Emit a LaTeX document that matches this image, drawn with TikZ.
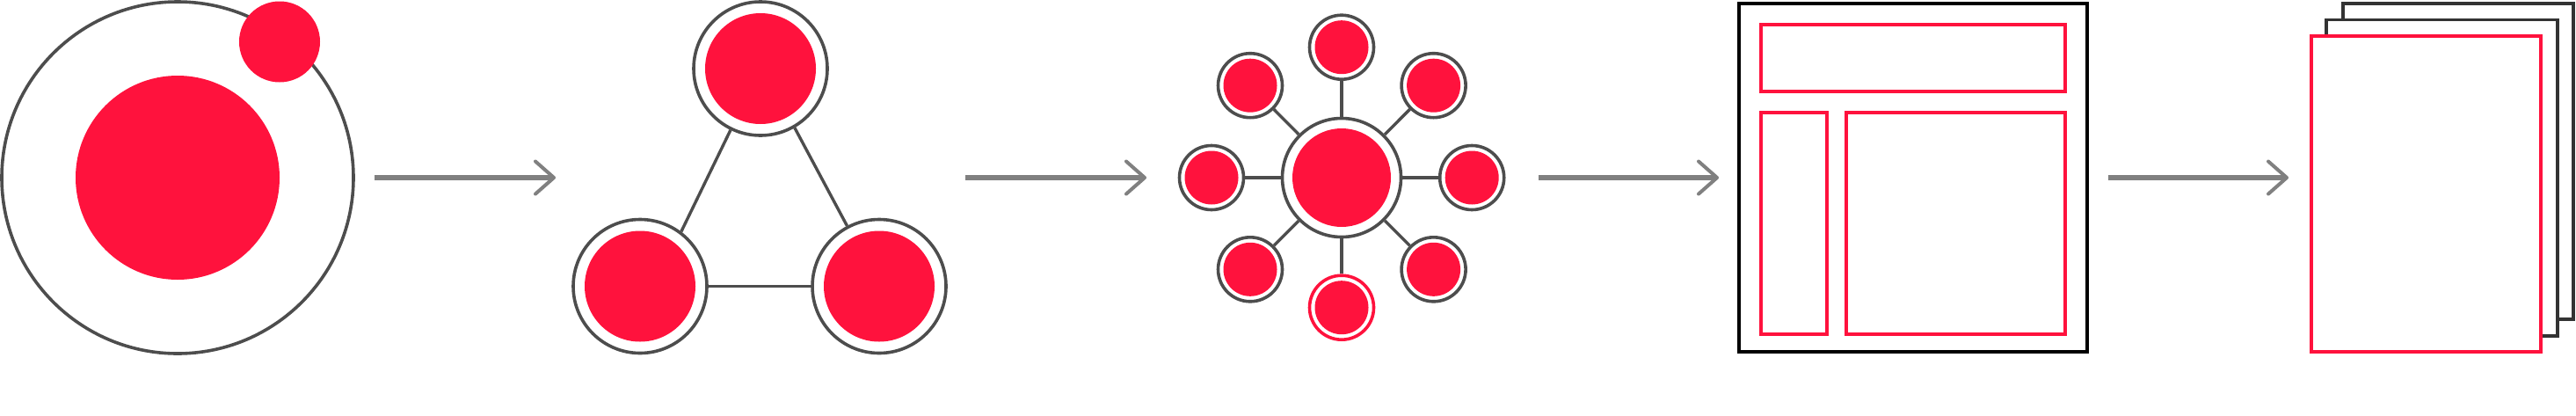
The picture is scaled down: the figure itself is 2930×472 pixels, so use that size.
\documentclass[tikz,border=0pt]{standalone}
\usetikzlibrary{arrows.meta}
\definecolor{hotred}{HTML}{FF123D}
\definecolor{ringgrey}{HTML}{4D4D4D}
\definecolor{arrowgrey}{HTML}{808080}
\definecolor{stackgrey}{HTML}{333333}
\tikzset{
  x=1pt,y=-1pt,
  ring/.style={circle,draw=ringgrey,line width=3.6pt,fill=white,inner sep=0pt,minimum size=#1},
  core/.style={circle,fill=hotred,inner sep=0pt,minimum size=#1},
  edge/.style={draw=ringgrey,line width=3.4pt},
  flow/.style={draw=arrowgrey,line width=5.5pt,-{Straight Barb[length=21pt,width=37pt,line width=4pt,round]}},
  blackbox/.style={draw=black,line width=4pt,fill=white},
  redbox/.style={draw=hotred,line width=4pt,fill=white},
  sheet/.style={draw=stackgrey,line width=3.6pt,fill=white}
}
\begin{document}
\begin{tikzpicture}
\useasboundingbox[fill=white] (0,0) rectangle (2930,472);

% stage 1
\node[ring=400pt] (big) at (202,202) {};
\node[core=232pt] (bigcore) at (202,202) {};
\node[core=92pt] (moon) at (318,47.5) {};
\coordinate (a1s) at (426,202);
\coordinate (a1e) at (632,202);
\draw[flow] (a1s) -- (a1e);

% stage 2
\node[ring=152pt] (t) at (865,78) {};
\node[ring=152pt] (l) at (728,325.5) {};
\node[ring=152pt] (r) at (1000,325.5) {};
\node[core=126pt] (tc) at (865,78) {};
\node[core=126pt] (lc) at (728,325.5) {};
\node[core=126pt] (rc) at (1000,325.5) {};
\draw[edge] (t.244.8) -- (l.53.6);
\draw[edge] (t.-60.3) -- (r.118.4);
\draw[edge] (l.east) -- (r.west);
\coordinate (a2s) at (1098,202);
\coordinate (a2e) at (1304,202);
\draw[flow] (a2s) -- (a2e);

% stage 3
\node[ring=135pt] (hub) at (1526,202) {};
\node[core=112pt] (hubc) at (1526,202) {};
\node[ring=73pt] (sn) at (1526,53.7) {};
\node[ring=73pt] (snw) at (1422,97.2) {};
\node[ring=73pt] (sw) at (1378,202) {};
\node[ring=73pt] (ssw) at (1422,306.3) {};
\node[ring=73pt,draw=hotred] (ss) at (1526,349.7) {};
\node[ring=73pt] (sse) at (1630.6,306.3) {};
\node[ring=73pt] (se) at (1674.2,202) {};
\node[ring=73pt] (sne) at (1630.6,97.2) {};
\node[core=61pt] (snc) at (1526,53.7) {};
\node[core=61pt] (snwc) at (1422,97.2) {};
\node[core=61pt] (swc) at (1378,202) {};
\node[core=61pt] (sswc) at (1422,306.3) {};
\node[core=61pt] (ssc) at (1526,349.7) {};
\node[core=61pt] (ssec) at (1630.6,306.3) {};
\node[core=61pt] (sec) at (1674.2,202) {};
\node[core=61pt] (snec) at (1630.6,97.2) {};
\draw[edge] (hub) -- (sn);
\draw[edge] (hub) -- (snw);
\draw[edge] (hub) -- (sw);
\draw[edge] (hub) -- (ssw);
\draw[edge] (hub) -- (ss);
\draw[edge] (hub) -- (sse);
\draw[edge] (hub) -- (se);
\draw[edge] (hub) -- (sne);
\coordinate (a3s) at (1750,202);
\coordinate (a3e) at (1955,202);
\draw[flow] (a3s) -- (a3e);

% stage 4
\draw[blackbox] (1978,4) rectangle (2373.6,400);
\draw[redbox] (2002.5,28) rectangle (2349.4,103.7);
\draw[redbox] (2002.5,128) rectangle (2077.5,379.7);
\draw[redbox] (2100,128) rectangle (2349.4,379.7);
\coordinate (a4s) at (2398,202);
\coordinate (a4e) at (2603,202);
\draw[flow] (a4s) -- (a4e);

% stage 5
\draw[sheet] (2665,4) rectangle (2927,363);
\draw[sheet] (2646,22.3) rectangle (2909,381.7);
\draw[redbox] (2628.5,41.3) rectangle (2890.2,399.7);
\end{tikzpicture}
\end{document}
